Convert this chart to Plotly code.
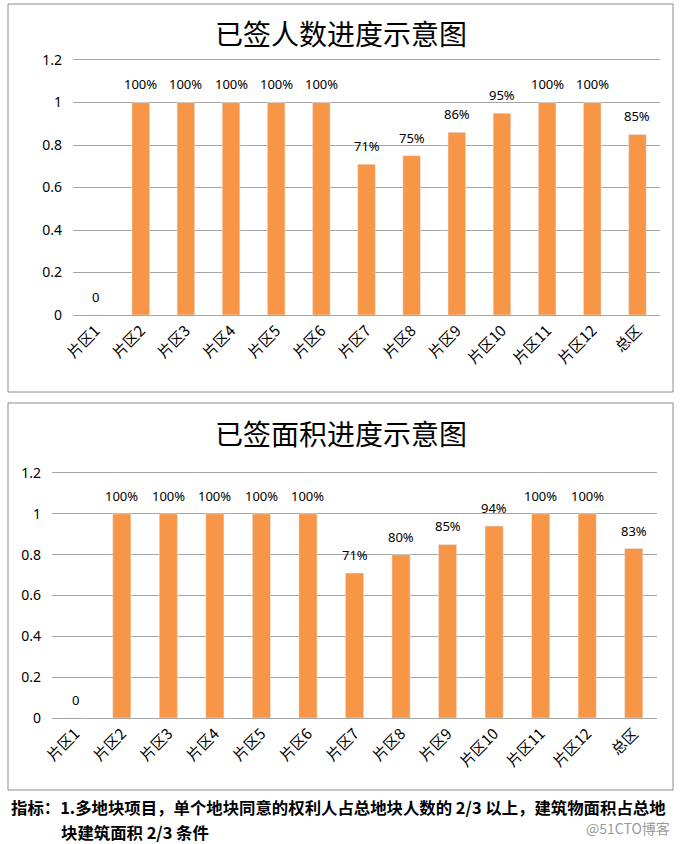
import plotly.graph_objects as go

categories = ["片区1", "片区2", "片区3", "片区4", "片区5", "片区6", "片区7",
              "片区8", "片区9", "片区10", "片区11", "片区12", "总区"]
people_values = [0, 1, 1, 1, 1, 1, 0.71, 0.75, 0.86, 0.95, 1, 1, 0.85]
area_values = [0, 1, 1, 1, 1, 1, 0.71, 0.80, 0.85, 0.94, 1, 1, 0.83]
title_people = "已签人数进度示意图"
title_area = "已签面积进度示意图"
y_ticks = [0, 0.2, 0.4, 0.6, 0.8, 1, 1.2]
y_tick_labels = ["0", "0.2", "0.4", "0.6", "0.8", "1", "1.2"]
footer_line1 = "指标：1.多地块项目，单个地块同意的权利人占总地块人数的 2/3 以上，建筑物面积占总地"
footer_line2 = "块建筑面积 2/3 条件"
watermark = "@51CTO博客"

W, H = 681, 844
BAR = "#F79646"
GRID = "#A6A6A6"
CJK = "Noto Sans CJK SC"
NUM = "Noto Sans"


def px(x):
    return x / W


def py(y):
    return 1 - y / H


def label(v):
    return "0" if v == 0 else f"{v:.0%}"


fig = go.Figure()
fig.add_trace(go.Bar(x=categories, y=people_values, marker_color=BAR,
                     width=0.39, xaxis="x", yaxis="y", hoverinfo="skip"))
fig.add_trace(go.Bar(x=categories, y=area_values, marker_color=BAR,
                     width=0.39, xaxis="x2", yaxis="y2", hoverinfo="skip"))

annotations = []
for ax, vals in (("", people_values), ("2", area_values)):
    for c, v in zip(categories, vals):
        annotations.append(dict(x=c, y=v, xref="x" + ax, yref="y" + ax,
                                text=label(v), showarrow=False, yshift=18,
                                yanchor="middle",
                                font=dict(family=NUM, size=13, color="#000000")))

annotations += [
    dict(x=px(341), y=py(33), xref="paper", yref="paper", text=title_people,
         xanchor="center", yanchor="middle",
         showarrow=False, font=dict(family=CJK, size=28, color="#000000")),
    dict(x=px(341), y=py(433), xref="paper", yref="paper", text=title_area,
         xanchor="center", yanchor="middle",
         showarrow=False, font=dict(family=CJK, size=28, color="#000000")),
    dict(x=px(9), y=py(807), xref="paper", yref="paper", xanchor="left",
         yanchor="middle",
         text="<b>" + footer_line1 + "</b>", showarrow=False,
         font=dict(family=CJK, size=16.4, color="#000000")),
    dict(x=px(59), y=py(832), xref="paper", yref="paper", xanchor="left",
         yanchor="middle",
         text="<b>" + footer_line2 + "</b>", showarrow=False,
         font=dict(family=CJK, size=16.4, color="#000000")),
    dict(x=px(672), y=py(828), xref="paper", yref="paper", xanchor="right",
         yanchor="middle",
         text=watermark, showarrow=False,
         font=dict(family=CJK, size=14, color="#9a9a9a")),
]

shapes = [
    dict(type="rect", xref="paper", yref="paper", x0=px(8), x1=px(673),
         y0=py(392), y1=py(4), line=dict(color="#8c8c8c", width=1)),
    dict(type="rect", xref="paper", yref="paper", x0=px(8), x1=px(673),
         y0=py(790), y1=py(403), line=dict(color="#8c8c8c", width=1)),
]

xcommon = dict(type="category", tickangle=-45, showgrid=False, showline=True,
               mirror=True, automargin=False,
               linecolor=GRID, linewidth=1, ticks="",
               tickfont=dict(family=CJK, size=15, color="#000000"))
ycommon = dict(range=[0, 1.2], tickvals=y_ticks, ticktext=y_tick_labels,
               showgrid=True, gridcolor=GRID, gridwidth=1, zeroline=False,
               showline=False, ticks="", ticklabelstandoff=10, automargin=False,
               tickfont=dict(family=NUM, size=14, color="#000000"))

fig.update_layout(
    width=W, height=H, margin=dict(l=0, r=0, t=0, b=0, autoexpand=False),
    paper_bgcolor="white", plot_bgcolor="white", showlegend=False,
    bargap=0.6,
    xaxis=dict(domain=[px(73), px(660)], anchor="y", **xcommon),
    yaxis=dict(domain=[py(315), py(60)], anchor="x", **ycommon),
    xaxis2=dict(domain=[px(52), px(657)], anchor="y2", **xcommon),
    yaxis2=dict(domain=[py(718), py(473)], anchor="x2", **ycommon),
    annotations=annotations, shapes=shapes,
)

fig.write_html("out.html")
